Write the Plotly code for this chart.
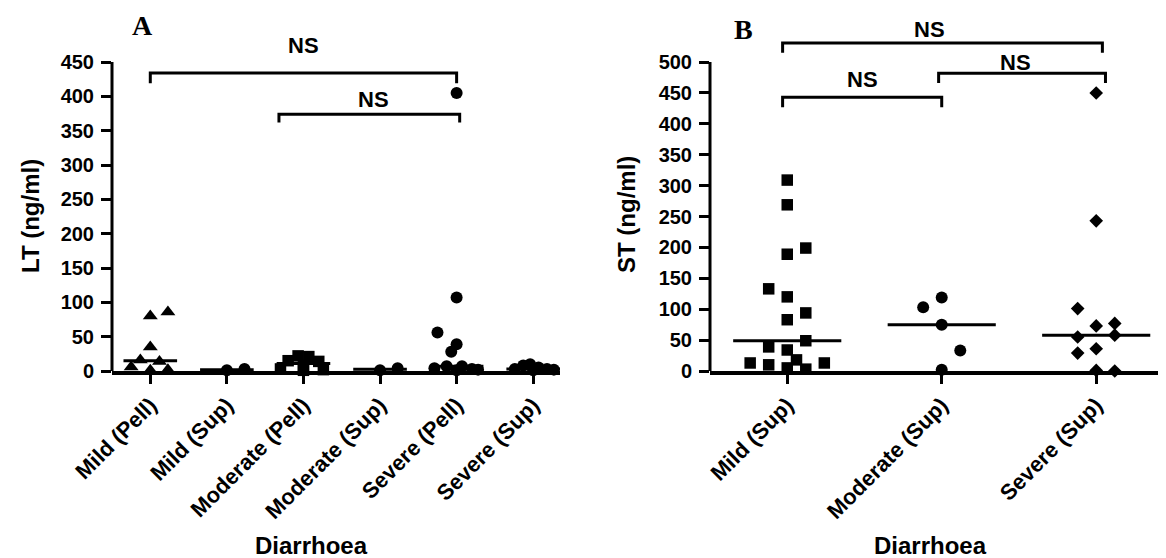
import numpy as np
import plotly.graph_objects as go

# The page body adds an 8 px margin, so the figure is 8 px smaller and all
# layout positions (given in screen pixels of the target) are shifted by 8.
SCREEN_W, SCREEN_H = 1166, 558
OFF = 8
W, H = SCREEN_W - OFF, SCREEN_H - OFF


def px(x):
    return (x - OFF) / W


def py(y):
    return (SCREEN_H - y) / H


# ---------------- Panel A : LT (ng/ml) ----------------
lt_categories = ['Mild (Pell)', 'Mild (Sup)', 'Moderate (Pell)',
                 'Moderate (Sup)', 'Severe (Pell)', 'Severe (Sup)']
lt_symbols = ['triangle-up', 'circle', 'square', 'circle', 'circle', 'circle']

lt_mild_pell = [80, 86, 35, 16, 14, 6, 2, 1]
lt_mild_sup = [1, 3]
lt_moderate_pell = [22, 21, 15, 14, 8, 3, 2, 1]
lt_moderate_sup = [1, 4]
lt_severe_pell = [405, 107, 56, 39, 28, 7, 7, 4, 3, 2, 1]
lt_severe_sup = [10, 8, 5, 3, 3, 2, 1]
lt_values = [lt_mild_pell, lt_mild_sup, lt_moderate_pell,
             lt_moderate_sup, lt_severe_pell, lt_severe_sup]

# horizontal spread of the points inside each column (category units)
lt_spread = [
    [0, 0.23, 0, -0.13, 0.12, -0.25, 0.23, 0],
    [0, 0.23],
    [-0.07, 0.07, -0.2, 0.2, 0, -0.3, 0.26, 0],
    [0, 0.23],
    [0, 0, -0.25, 0, -0.07, -0.13, 0.07, -0.29, 0.2, 0.28, 0],
    [-0.04, -0.13, 0.07, -0.24, 0.18, 0.27, 0],
]
lt_ticks = [0, 50, 100, 150, 200, 250, 300, 350, 400, 450]

# comparison brackets: (left cat, right cat, top, drop, label)
lt_brackets = [(0.0, 4.0, 434, 419, 'NS'), (1.68, 4.04, 374, 362, 'NS')]
lt_ns_pos = [(2.0, 474), (2.91, 396)]

# ---------------- Panel B : ST (ng/ml) ----------------
st_categories = ['Mild (Sup)', 'Moderate (Sup)', 'Severe (Sup)']
st_symbols = ['square', 'circle', 'diamond']
st_mild_sup = [309, 269, 199, 189, 133, 120, 94, 83, 49, 39, 34, 18, 13, 10, 13, 5, 3]
st_moderate_sup = [103, 119, 75, 33, 2]
st_severe_sup = [450, 243, 101, 73, 77, 55, 58, 29, 36, 1, 0]
st_values = [st_mild_sup, st_moderate_sup, st_severe_sup]
st_spread = [
    [0, 0, 0.12, 0, -0.12, 0, 0.12, 0, 0.12, -0.12, 0, 0.06, -0.24, -0.12, 0.24, 0, 0.12],
    [-0.12, 0, 0, 0.12, 0],
    [0, 0, -0.12, 0, 0.12, -0.12, 0.12, -0.12, 0, 0, 0.12],
]
st_ticks = [0, 50, 100, 150, 200, 250, 300, 350, 400, 450, 500]
st_brackets = [(-0.03, 2.04, 531, 515, 'NS'), (-0.03, 1.0, 443, 427, 'NS'),
               (0.98, 2.06, 482, 466, 'NS')]
st_ns_pos = [(0.92, 552), (0.49, 471), (1.48, 500)]

marker_sizes = {'triangle-up': 13, 'circle': 12, 'square': 11.5, 'diamond': 10.5}

fig = go.Figure()


def add_panel(values, spread, symbols, xa, ya):
    for i, (vals, offs, sym) in enumerate(zip(values, spread, symbols)):
        fig.add_trace(go.Scatter(
            x=[i + o for o in offs], y=vals, mode='markers',
            marker=dict(symbol=sym, size=marker_sizes[sym], color='black',
                        line=dict(width=0)),
            cliponaxis=False, xaxis=xa, yaxis=ya, hoverinfo='y'))
        med = float(np.median(vals))
        fig.add_trace(go.Scatter(
            x=[i - 0.35, i + 0.35], y=[med, med], mode='lines',
            line=dict(color='black', width=3), xaxis=xa, yaxis=ya,
            hoverinfo='skip'))


def add_brackets(brackets, ns_pos, xa, ya):
    for (x0, x1, top, drop, lab), (tx, ty) in zip(brackets, ns_pos):
        fig.add_trace(go.Scatter(
            x=[x0, x0, x1, x1], y=[drop, top, top, drop], mode='lines',
            line=dict(color='black', width=3), xaxis=xa, yaxis=ya,
            hoverinfo='skip'))
        fig.add_annotation(x=tx, y=ty, xref=xa, yref=ya, text=lab,
                           showarrow=False, xanchor='center', yanchor='middle',
                           font=dict(family='Liberation Sans', size=22,
                                     color='black', weight='bold'))


add_panel(lt_values, lt_spread, lt_symbols, 'x', 'y')
add_brackets(lt_brackets, lt_ns_pos, 'x', 'y')
add_panel(st_values, st_spread, st_symbols, 'x2', 'y2')
add_brackets(st_brackets, st_ns_pos, 'x2', 'y2')

tickfont = dict(family='Liberation Sans', size=20, color='black', weight='bold')
xtickfont = dict(family='Liberation Sans', size=22, color='black', weight='bold')

common_x = dict(showline=True, linewidth=3.5, linecolor='black', ticks='outside',
                ticklen=9, tickwidth=3, tickcolor='black', tickangle=-45,
                showgrid=False, zeroline=False, tickfont=xtickfont,
                fixedrange=True, automargin=False)
common_y = dict(showline=False, ticks='outside', ticklen=10, tickwidth=3,
                tickcolor='black', showgrid=False, zeroline=False,
                tickfont=tickfont, fixedrange=True, automargin=False,
                ticklabelstandoff=3)

fig.update_layout(
    width=W, height=H, margin=dict(l=0, r=0, t=0, b=0, autoexpand=False),
    paper_bgcolor='white', plot_bgcolor='white', showlegend=False,
    xaxis=dict(domain=[px(112), px(560)], range=[-0.5, 5.35],
               tickvals=list(range(len(lt_categories))), ticktext=lt_categories,
               anchor='y', **common_x),
    yaxis=dict(domain=[py(371), py(27.7)], range=[0, 500],
               tickvals=lt_ticks, anchor='x', **common_y),
    xaxis2=dict(domain=[px(710), px(1158)], range=[-0.5, 2.4],
                tickvals=list(range(len(st_categories))), ticktext=st_categories,
                anchor='y2', **common_x),
    yaxis2=dict(domain=[py(371), py(25)], range=[0, 560],
                tickvals=st_ticks, anchor='x2', **common_y),
)

# y-axis lines that stop at the top tick
fig.add_shape(type='line', xref='x domain', yref='y', x0=0, x1=0, y0=0,
              y1=lt_ticks[-1], line=dict(color='black', width=3))
fig.add_shape(type='line', xref='x2 domain', yref='y2', x0=0, x1=0, y0=0,
              y1=st_ticks[-1], line=dict(color='black', width=3))


def label(text, x, y, font, angle=0):
    fig.add_annotation(x=px(x), y=py(y), xref='paper', yref='paper', text=text,
                       textangle=angle, showarrow=False, xanchor='center',
                       yanchor='middle', font=font)


title_font = dict(family='Liberation Sans', size=24, color='black', weight='bold')
label('LT (ng/ml)', 30, 216, title_font, -90)
label('ST (ng/ml)', 626, 215, title_font, -90)
label('Diarrhoea', 311, 545, title_font)
label('Diarrhoea', 930, 545, title_font)

letter_font = dict(family='Liberation Serif', size=28, color='black', weight='bold')
label('A', 142, 26, letter_font)
label('B', 743, 29, letter_font)

fig.write_html('out.html')
